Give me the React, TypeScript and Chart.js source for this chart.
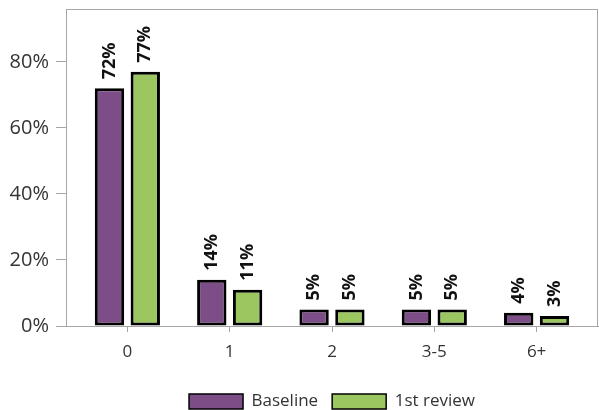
import React, { useEffect, useRef } from "react";
import { Chart, registerables } from "chart.js";

Chart.register(...registerables);

const categories = ["0", "1", "2", "3-5", "6+"];
const baseline = [72, 14, 5, 5, 4];
const firstReview = [77, 11, 5, 5, 3];
const yTicks = [0, 20, 40, 60, 80];
const seriesNames = ["Baseline", "1st review"];

const FONT = "'Open Sans', 'DejaVu Sans', sans-serif";
const PURPLE = "#7c4d87";
const GREEN = "#9bc660";
const FRAME = "#a6a6a6";

const framePlugin = {
  id: "frame",
  beforeDatasetsDraw(chart: any) {
    const { ctx, chartArea } = chart;
    ctx.save();
    ctx.strokeStyle = FRAME;
    ctx.lineWidth = 1;
    ctx.strokeRect(
      Math.round(chartArea.left) + 0.5,
      Math.round(chartArea.top) + 0.5,
      Math.round(chartArea.right - chartArea.left) - 1,
      Math.round(chartArea.bottom - chartArea.top)
    );
    ctx.restore();
  },
};

const labelPlugin = {
  id: "barLabels",
  afterDatasetsDraw(chart: any) {
    const { ctx } = chart;
    ctx.save();
    ctx.fillStyle = "#111";
    ctx.font = `bold 18px ${FONT}`;
    ctx.textAlign = "left";
    ctx.textBaseline = "middle";
    chart.data.datasets.forEach((ds: any, di: number) => {
      const meta = chart.getDatasetMeta(di);
      meta.data.forEach((el: any, i: number) => {
        const v = ds.data[i].y;
        ctx.save();
        ctx.translate(el.x, el.y - 9);
        ctx.rotate(-Math.PI / 2);
        ctx.fillText(`${v}%`, 0, 0);
        ctx.restore();
      });
    });
    ctx.restore();
  },
};

export default function App() {
  const ref = useRef<HTMLCanvasElement>(null);

  useEffect(() => {
    document.body.style.margin = "0";
    const mk = (vals: number[]) => vals.map((v, i) => ({ x: i, y: v }));
    const chart = new Chart(ref.current as HTMLCanvasElement, {
      type: "bar",
      data: {
        datasets: [
          {
            label: seriesNames[0],
            data: mk(baseline),
            backgroundColor: PURPLE,
            borderColor: "#000",
            borderWidth: 3,
            borderSkipped: false,
            categoryPercentage: 0.7,
            barPercentage: 0.82,
          },
          {
            label: seriesNames[1],
            data: mk(firstReview),
            backgroundColor: GREEN,
            borderColor: "#000",
            borderWidth: 3,
            borderSkipped: false,
            categoryPercentage: 0.7,
            barPercentage: 0.82,
          },
        ],
      } as any,
      options: {
        animation: false,
        responsive: false,
        maintainAspectRatio: false,
        layout: { padding: { top: 9, right: 1, left: 0, bottom: 0 } },
        plugins: {
          tooltip: { enabled: false },
          legend: {
            position: "bottom",
            fullSize: false,
            maxHeight: 31,
            labels: {
              font: { family: FONT, size: 17 },
              color: "#333",
              boxWidth: 54,
              boxHeight: 15,
              padding: 14,
              generateLabels(chart: any) {
                const items = Chart.defaults.plugins.legend.labels.generateLabels(chart);
                items.forEach((it: any) => {
                  it.lineWidth = 1.5;
                });
                return items;
              },
            },
          },
        },
        scales: {
          x: {
            type: "linear",
            min: -0.6,
            max: 4.6,
            offset: false,
            afterBuildTicks(scale: any) {
              scale.ticks = categories.map((_, i) => ({ value: i }));
            },
            afterFit(scale: any) {
              scale.height = 53;
              scale.paddingLeft = 0;
              scale.paddingRight = 0;
            },
            ticks: {
              font: { family: FONT, size: 17 },
              color: "#333",
              padding: 10,
              callback: (v: any) => categories[v as number] ?? "",
              maxRotation: 0,
              autoSkip: false,
            },
            grid: {
              offset: false,
              drawOnChartArea: false,
              drawTicks: true,
              tickLength: 6,
              color: FRAME,
            },
            border: { color: FRAME },
          },
          y: {
            min: 0,
            max: 96,
            afterBuildTicks(scale: any) {
              scale.ticks = yTicks.map((v) => ({ value: v }));
            },
            afterFit(scale: any) {
              scale.width = 66;
              scale.paddingTop = 0;
              scale.paddingBottom = 0;
            },
            ticks: {
              font: { family: FONT, size: 20 },
              color: "#333",
              padding: 7,
              callback: (v: any) => `${v}%`,
            },
            grid: {
              drawOnChartArea: false,
              drawTicks: true,
              tickLength: 10,
              color: FRAME,
            },
            border: { color: FRAME },
          },
        },
      } as any,
      plugins: [framePlugin, labelPlugin],
    });
    return () => chart.destroy();
  }, []);

  return (
    <div style={{ width: 599, height: 410 }}>
      <canvas ref={ref} width={599} height={410} style={{ width: 599, height: 410, display: "block" }} />
    </div>
  );
}
